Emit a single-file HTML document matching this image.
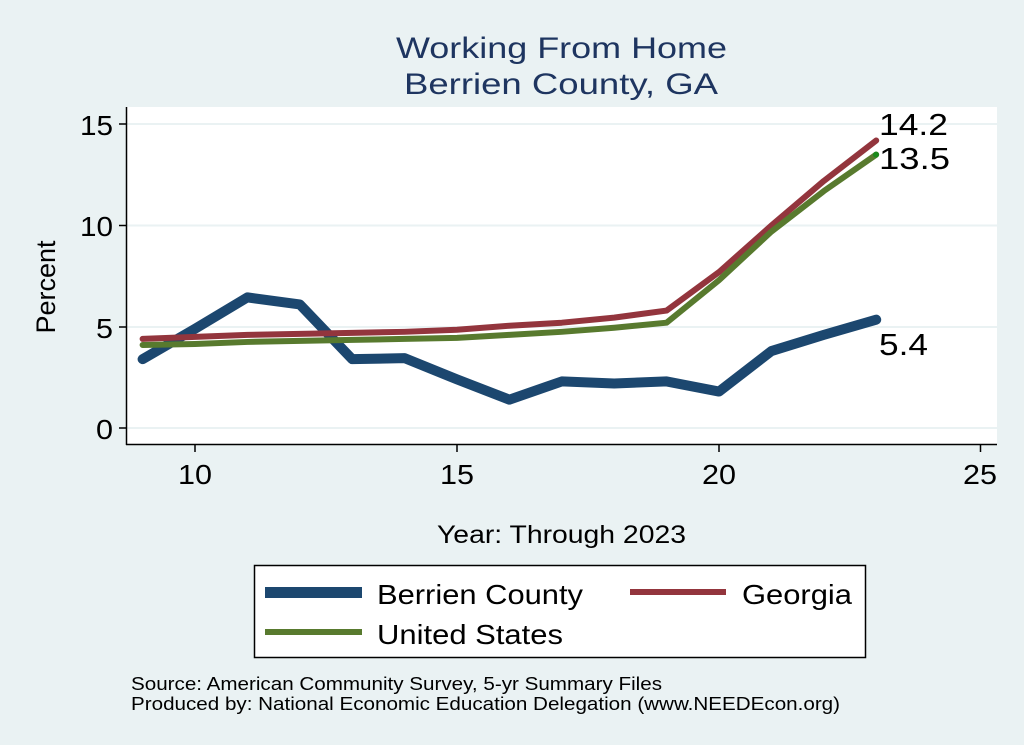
<!DOCTYPE html>
<html><head><style>
html,body{margin:0;padding:0;background:#eaf2f3;}
svg{display:block;font-family:"Liberation Sans",Arial,sans-serif;}
</style></head><body>
<svg width="1024" height="745" viewBox="0 0 1024 745">
<rect width="1024" height="745" fill="#eaf2f3"/>
<rect x="126" y="107" width="871" height="337" fill="#fff"/>
<g stroke="#eaf2f3" stroke-width="2">
<line x1="126" x2="997" y1="124" y2="124"/>
<line x1="126" x2="997" y1="225.5" y2="225.5"/>
<line x1="126" x2="997" y1="327" y2="327"/>
<line x1="126" x2="997" y1="428" y2="428"/>
</g>
<g stroke="#000" stroke-width="1.5" fill="none">
<line x1="126.5" y1="107" x2="126.5" y2="445"/>
<line x1="126" y1="444.5" x2="997" y2="444.5"/>
<line x1="119" x2="126" y1="124" y2="124"/>
<line x1="119" x2="126" y1="225.5" y2="225.5"/>
<line x1="119" x2="126" y1="327" y2="327"/>
<line x1="119" x2="126" y1="428" y2="428"/>
<line x1="195" x2="195" y1="444" y2="452"/>
<line x1="457" x2="457" y1="444" y2="452"/>
<line x1="719" x2="719" y1="444" y2="452"/>
<line x1="980.5" x2="980.5" y1="444" y2="452"/>
</g>
<g font-size="28" fill="#000">
<text x="80" y="135" textLength="33" lengthAdjust="spacingAndGlyphs">15</text>
<text x="80" y="236" textLength="33" lengthAdjust="spacingAndGlyphs">10</text>
<text x="96" y="338" textLength="17" lengthAdjust="spacingAndGlyphs">5</text>
<text x="96" y="439" textLength="17" lengthAdjust="spacingAndGlyphs">0</text>
<text x="178" y="484" textLength="34" lengthAdjust="spacingAndGlyphs">10</text>
<text x="440" y="484" textLength="34" lengthAdjust="spacingAndGlyphs">15</text>
<text x="702" y="484" textLength="34" lengthAdjust="spacingAndGlyphs">20</text>
<text x="963" y="484" textLength="34" lengthAdjust="spacingAndGlyphs">25</text>
</g>
<text x="437" y="543" font-size="25" textLength="249" lengthAdjust="spacingAndGlyphs">Year: Through 2023</text>
<text x="396" y="58" font-size="30" fill="#1e3560" textLength="331" lengthAdjust="spacingAndGlyphs">Working From Home</text>
<text x="404" y="94" font-size="30" fill="#1e3560" textLength="314" lengthAdjust="spacingAndGlyphs">Berrien County, GA</text>
<text transform="translate(55,287) rotate(-90)" font-size="27" text-anchor="middle">Percent</text>
<g transform="translate(-329,428) scale(52.4,-20.25)" fill="none" stroke-linejoin="round" stroke-linecap="round">
<polyline vector-effect="non-scaling-stroke" stroke="#1c476f" stroke-width="10" points="9,3.4 10,4.9 11,6.45 12,6.1 13,3.4 14,3.45 15,2.4 16,1.4 17,2.3 18,2.2 19,2.3 20,1.8 21,3.8 22,4.6 23,5.35"/>
<polyline vector-effect="non-scaling-stroke" stroke="#93353d" stroke-width="6" points="9,4.4 10,4.5 11,4.6 12,4.65 13,4.7 14,4.75 15,4.85 16,5.05 17,5.2 18,5.45 19,5.8 20,7.7 21,10 22,12.2 23,14.2"/>
<polyline vector-effect="non-scaling-stroke" stroke="#587a2e" stroke-width="6" points="9,4.1 10,4.15 11,4.25 12,4.3 13,4.35 14,4.4 15,4.45 16,4.6 17,4.75 18,4.95 19,5.2 20,7.3 21,9.7 22,11.7 23,13.5"/>
</g>
<circle cx="876" cy="154.6" r="3" fill="#1a8a1a"/>
<g font-size="31" fill="#000">
<text x="879" y="135" textLength="69" lengthAdjust="spacingAndGlyphs">14.2</text>
<text x="879" y="169" textLength="71" lengthAdjust="spacingAndGlyphs">13.5</text>
<text x="879" y="355" textLength="49" lengthAdjust="spacingAndGlyphs">5.4</text>
</g>
<rect x="254.5" y="565.5" width="611" height="92" fill="#fff" stroke="#000" stroke-width="1.5"/>
<rect x="265" y="587" width="97" height="11" fill="#1c476f"/>
<rect x="630" y="589" width="96" height="6" fill="#93353d"/>
<rect x="265" y="629" width="97" height="6" fill="#587a2e"/>
<g font-size="28" fill="#000">
<text x="377" y="604" textLength="206" lengthAdjust="spacingAndGlyphs">Berrien County</text>
<text x="742" y="604" textLength="110" lengthAdjust="spacingAndGlyphs">Georgia</text>
<text x="377" y="644" textLength="186" lengthAdjust="spacingAndGlyphs">United States</text>
</g>
<g font-size="18" fill="#000">
<text x="131" y="690" textLength="531" lengthAdjust="spacingAndGlyphs">Source: American Community Survey, 5-yr Summary Files</text>
<text x="131" y="710" textLength="709" lengthAdjust="spacingAndGlyphs">Produced by: National Economic Education Delegation (www.NEEDEcon.org)</text>
</g>
</svg>
</body></html>
